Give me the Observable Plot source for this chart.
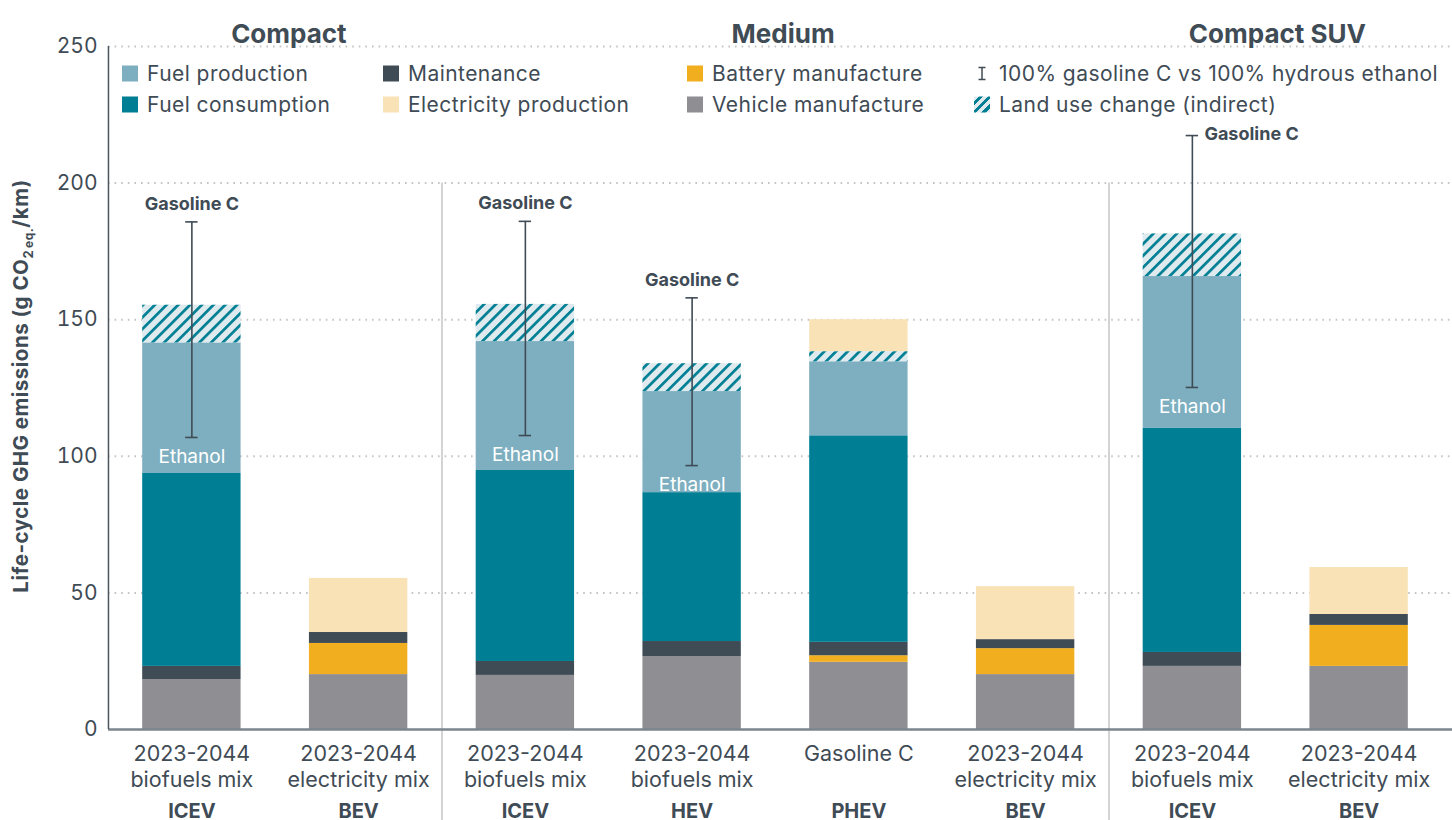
<!DOCTYPE html>
<html>
<head>
<meta charset="utf-8">
<script src="https://cdn.jsdelivr.net/npm/d3@7"></script>
<script src="https://cdn.jsdelivr.net/npm/@observablehq/plot@0.6"></script>
<style>
  body { margin: 0; background: #fff; }
  #wrap { position: relative; width: 1452px; height: 820px; font-family: Inter, "Open Sans", sans-serif; color: #3f4b55; }
  .lg { position: absolute; display: flex; align-items: center; font-size: 21px; letter-spacing: 0.45px; white-space: nowrap; transform: translateY(-50%); }
  .sw { width: 16px; height: 16px; margin-right: 9px; flex: none; }
</style>
</head>
<body>
<div id="wrap"></div>
<script>
// ---- data ----
const bars = ["c-icev", "c-bev", "m-icev", "m-hev", "m-phev", "m-bev", "s-icev", "s-bev"];
const groupTitles = ["Compact", "Medium", "Compact SUV"];
const types = ["ICEV", "BEV", "ICEV", "HEV", "PHEV", "BEV", "ICEV", "BEV"];
const mixLabels = [
  "2023-2044\nbiofuels mix", "2023-2044\nelectricity mix",
  "2023-2044\nbiofuels mix", "2023-2044\nbiofuels mix", "Gasoline C", "2023-2044\nelectricity mix",
  "2023-2044\nbiofuels mix", "2023-2044\nelectricity mix"
];
const components = ["Vehicle manufacture", "Battery manufacture", "Maintenance", "Fuel consumption",
  "Fuel production", "Land use change (indirect)", "Electricity production"];
const colors = ["#8e8e93", "#f1ae1e", "#3f4b55", "#007f94", "#7eafc0", "url(#hatch)", "#f9e2b6"];

const vehicleManufacture    = [18.3, 20.1, 19.8, 26.7, 24.6, 20.1, 23.1, 23.1];
const batteryManufacture    = [0, 11.4, 0, 0, 2.4, 9.5, 0, 15.0];
const maintenance           = [4.8, 4.0, 5.1, 5.5, 4.9, 3.3, 5.1, 4.0];
const fuelConsumption       = [70.6, 0, 69.9, 54.5, 75.6, 0, 82.0, 0];
const fuelProduction        = [47.8, 0, 47.2, 37.0, 27.1, 0, 55.6, 0];
const landUseChange         = [13.8, 0, 13.6, 10.2, 3.7, 0, 15.6, 0];
const electricityProduction = [0, 19.8, 0, 0, 11.7, 19.4, 0, 17.2];

// error range: 100% gasoline C (high) vs 100% hydrous ethanol (low)
const gasolineC      = [185.8, null, 186.0, 158.0, null, null, 217.4, null];
const hydrousEthanol = [106.9, null, 107.6, 96.6, null, null, 125.2, null];

const yTicks = [0, 50, 100, 150, 200, 250];

// ---- derived tables ----
const series = [vehicleManufacture, batteryManufacture, maintenance, fuelConsumption,
  fuelProduction, landUseChange, electricityProduction];
const table = bars.flatMap((b, i) => components.map((c, j) => ({bar: b, component: c, value: series[j][i]})))
  .filter(d => d.value > 0);
const errs = bars.map((b, i) => ({bar: b, high: gasolineC[i], low: hydrousEthanol[i]})).filter(d => d.high != null);
const caps = errs.flatMap(d => [{bar: d.bar, v: d.high}, {bar: d.bar, v: d.low}]);
const barInfo = bars.map((b, i) => ({bar: b, type: types[i], mix: mixLabels[i]}));

const ink = "#3f4b55";
const font = "Inter, 'Open Sans', sans-serif";

const svg = Plot.plot({
  width: 1452,
  height: 820,
  marginTop: 46,
  marginBottom: 91,
  marginLeft: 108,
  marginRight: 10,
  style: {fontFamily: font, fontSize: "21px", color: ink, background: "#fff", overflow: "visible"},
  x: {type: "band", domain: bars, paddingInner: 0.41, paddingOuter: 0.205, round: false, axis: null},
  y: {domain: [0, 250], ticks: yTicks, tickSize: 0, tickPadding: 11, label: null},
  color: {domain: components, range: colors},
  marks: [
    Plot.ruleY(yTicks.filter(t => t > 0), {stroke: "#c4c4c4", strokeWidth: 2, strokeDasharray: "1.6,5", insetRight: -10}),
    Plot.ruleX([bars[2], bars[6]], {x: d => d, y1: 200, y2: 0, dx: -83.4, insetBottom: -91, stroke: "#d3d3d3", strokeWidth: 2}),
    Plot.barY(table, {x: "bar", y: "value", fill: "component", order: components}),
    Plot.ruleY([0], {stroke: "#7b858d", strokeWidth: 2.5, insetRight: -10}),
    Plot.ruleX([bars[0]], {x: d => d, y1: 0, y2: 250, dx: -83.4, stroke: "#4a555e", strokeWidth: 1.5}),
    Plot.ruleX(errs, {x: "bar", y1: "low", y2: "high", stroke: ink, strokeWidth: 1.6}),
    Plot.tickY(caps, {x: "bar", y: "v", insetLeft: 43, insetRight: 43, stroke: ink, strokeWidth: 1.6}),
    Plot.text(errs.filter(d => d.bar !== "s-icev"), {x: "bar", y: "high", text: () => "Gasoline C", dy: -18, fontWeight: 700, fontSize: 18, letterSpacing: "0.4px", fill: ink}),
    Plot.text(errs.filter(d => d.bar === "s-icev"), {x: "bar", y: "high", text: () => "Gasoline C", dx: 12, dy: -1, textAnchor: "start", fontWeight: 700, fontSize: 18, letterSpacing: "0.4px", fill: ink}),
    Plot.text(errs, {x: "bar", y: "low", text: () => "Ethanol", dy: 19, fontSize: 19, letterSpacing: "0.4px", fill: "#fff"}),
    // group titles
    Plot.text([groupTitles[0]], {x: () => bars[0], text: d => d, frameAnchor: "top", dy: -22, dx: 97, fontWeight: 700, fontSize: 26, letterSpacing: "0.5px", fill: ink}),
    Plot.text([groupTitles[1]], {x: () => bars[3], text: d => d, frameAnchor: "top", dy: -22, dx: 91, fontWeight: 700, fontSize: 26, letterSpacing: "0.5px", fill: ink}),
    Plot.text([groupTitles[2]], {x: () => bars[6], text: d => d, frameAnchor: "top", dy: -22, dx: 85, fontWeight: 700, fontSize: 26, letterSpacing: "0.5px", fill: ink}),
    // category labels
    Plot.text(barInfo, {x: "bar", text: "mix", frameAnchor: "bottom", lineAnchor: "top", dy: 13, lineHeight: 1.2, fontSize: 21.5, letterSpacing: "0.45px", fill: ink}),
    Plot.text(barInfo, {x: "bar", text: "type", frameAnchor: "bottom", lineAnchor: "bottom", dy: 88, fontWeight: 700, fontSize: 20, letterSpacing: "0.6px", fill: ink})
  ]
});

// hatch pattern for land use change
const defs = d3.select(svg).insert("defs", ":first-child");
const pat = defs.append("pattern").attr("id", "hatch").attr("patternUnits", "userSpaceOnUse")
  .attr("width", 8.3).attr("height", 8.3).attr("patternTransform", "rotate(45)");
pat.append("rect").attr("width", 8.3).attr("height", 8.3).attr("fill", "#dfeaee");
pat.append("rect").attr("width", 2.7).attr("height", 8.3).attr("fill", "#007f94");

// y-axis title with subscripts
const yt = d3.select(svg).append("text")
  .attr("transform", "translate(28,386) rotate(-90)")
  .attr("text-anchor", "middle")
  .attr("font-family", font).attr("font-weight", 700).attr("font-size", 20.5)
  .attr("letter-spacing", "0.5px").attr("fill", ink);
yt.append("tspan").text("Life-cycle GHG emissions (g CO");
yt.append("tspan").attr("font-size", 13).attr("dy", 5).text("2");
yt.append("tspan").attr("font-size", 12).attr("dy", 0).attr("dx", 2).text("eq.");
yt.append("tspan").attr("dy", -5).text("/km)");

const wrap = document.getElementById("wrap");
wrap.appendChild(svg);

// legend (overlaid inside the plot area)
const legendItems = [
  {label: "Fuel production", color: "#7eafc0", x: 122, y: 73},
  {label: "Fuel consumption", color: "#007f94", x: 122, y: 104},
  {label: "Maintenance", color: "#3f4b55", x: 383, y: 73},
  {label: "Electricity production", color: "#f9e2b6", x: 383, y: 104},
  {label: "Battery manufacture", color: "#f1ae1e", x: 687, y: 73},
  {label: "Vehicle manufacture", color: "#8e8e93", x: 687, y: 104},
  {label: "100% gasoline C vs 100% hydrous ethanol", kind: "err", x: 974, y: 73},
  {label: "Land use change (indirect)", kind: "hatch", x: 974, y: 104}
];
for (const it of legendItems) {
  const el = document.createElement("div");
  el.className = "lg";
  el.style.left = it.x + "px";
  el.style.top = it.y + "px";
  let sw;
  if (it.kind === "err") {
    sw = `<svg width="16" height="16" style="margin-right:9px;flex:none"><line x1="8" x2="8" y1="2" y2="14" stroke="${ink}" stroke-width="1.5"/><line x1="4.5" x2="11.5" y1="2" y2="2" stroke="${ink}" stroke-width="1.5"/><line x1="4.5" x2="11.5" y1="14" y2="14" stroke="${ink}" stroke-width="1.5"/></svg>`;
  } else if (it.kind === "hatch") {
    sw = `<div class="sw" style="background:repeating-linear-gradient(135deg,#dfeaee 0 3.5px,#007f94 3.5px 6.5px)"></div>`;
  } else {
    sw = `<div class="sw" style="background:${it.color}"></div>`;
  }
  el.innerHTML = sw + `<span>${it.label}</span>`;
  wrap.appendChild(el);
}
</script>
</body>
</html>
